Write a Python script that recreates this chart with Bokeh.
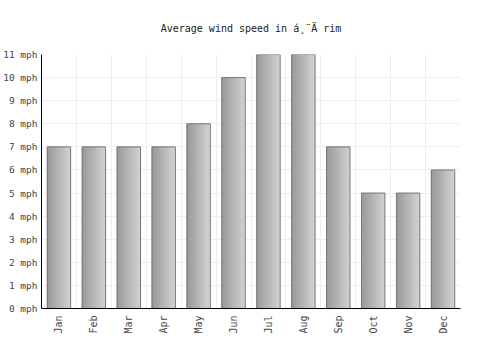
import math
from bokeh.plotting import figure
from bokeh.models import ColumnDataSource, FixedTicker, PrintfTickFormatter, Range1d, Title
from bokeh.embed import file_html
from bokeh.resources import INLINE

months = ["Jan", "Feb", "Mar", "Apr", "May", "Jun", "Jul", "Aug", "Sep", "Oct", "Nov", "Dec"]
wind_mph = [7, 7, 7, 7, 8, 10, 11, 11, 7, 5, 5, 6]
y_ticks = list(range(0, 12))
title_text = "Average wind speed in á¸¨Ä rim"

FONT = "DejaVu Sans Mono"
BAR_W = 0.67
N = 24
c0 = (0x98, 0x98, 0x98)
c1 = (0xd2, 0xd2, 0xd2)

xs, tops, ws, cols = [], [], [], []
for i, v in enumerate(wind_mph):
    for j in range(N):
        t = (j + 0.5) / N
        xs.append(i - BAR_W / 2 + t * BAR_W)
        tops.append(v)
        ws.append(BAR_W / N * (1.8 if j < N - 1 else 1.0))
        r = tuple(int(round(a + (b - a) * t)) for a, b in zip(c0, c1))
        cols.append("#%02x%02x%02x" % r)

slices = ColumnDataSource(dict(x=xs, top=tops, w=ws, color=cols))
bars = ColumnDataSource(dict(x=list(range(len(months))), top=wind_mph))

p = figure(width=500, height=350, output_backend="svg", toolbar_location=None,
           x_range=Range1d(-0.5, len(months) - 0.5), y_range=Range1d(0, 11),
           min_border_left=41, min_border_right=40, min_border_top=54, min_border_bottom=42)
p.title = None
t = Title(text=title_text, align="center", text_font=FONT, text_font_size="10px",
          text_font_style="normal", text_color="#222222", standoff=41)
p.add_layout(t, "above")

p.vbar(x="x", top="top", width="w", bottom=0, source=slices, fill_color="color", line_color=None)
p.vbar(x="x", top="top", width=BAR_W, bottom=0, source=bars, fill_color=None,
       line_color="#777777", line_width=1)

p.outline_line_color = None
p.background_fill_color = "white"

p.xaxis.ticker = FixedTicker(ticks=list(range(len(months))))
p.xaxis.major_label_overrides = {i: m for i, m in enumerate(months)}
p.xaxis.major_label_orientation = math.pi / 2
p.yaxis.ticker = FixedTicker(ticks=y_ticks)
p.yaxis.formatter = PrintfTickFormatter(format="%d mph")

for ax in (p.xaxis, p.yaxis):
    ax.major_tick_line_color = None
    ax.minor_tick_line_color = None
    ax.major_tick_out = 0
    ax.major_tick_in = 0
    ax.minor_tick_out = 0
    ax.minor_tick_in = 0
    ax.axis_line_color = "black"
    ax.axis_line_width = 1
    ax.major_label_text_font = FONT
    ax.major_label_text_font_size = "10px"
    ax.major_label_text_color = "#444444"
p.yaxis.major_label_text_font_size = "9.5px"
p.yaxis.major_label_standoff = 4
p.xaxis.major_label_standoff = 7

p.xgrid.ticker = FixedTicker(ticks=[i - 0.5 for i in range(len(months) + 1)])
p.ygrid.ticker = FixedTicker(ticks=y_ticks)
p.xgrid.grid_line_color = "#eeeeee"
p.ygrid.grid_line_color = "#eeeeee"

open("out.html", "w").write(file_html(p, INLINE))
